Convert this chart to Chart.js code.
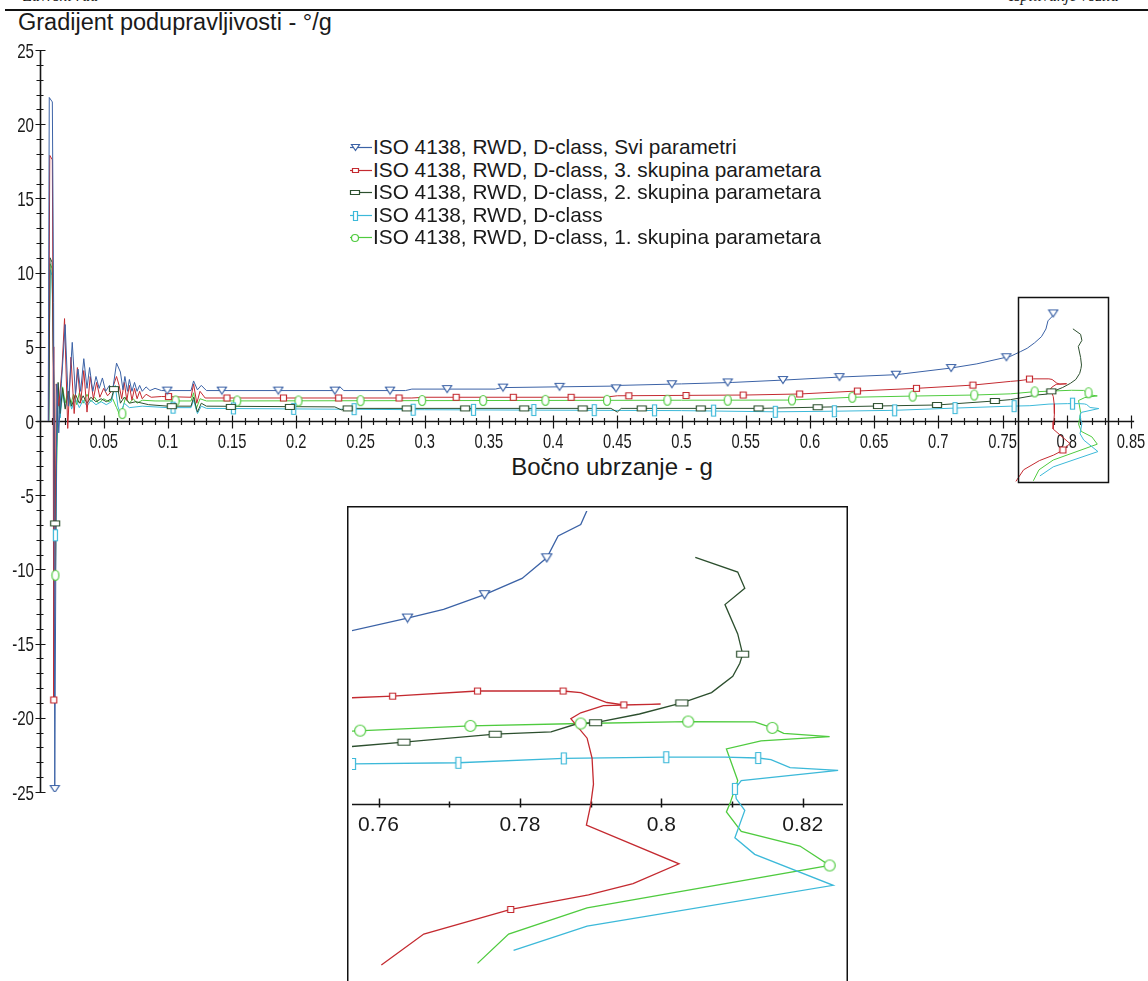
<!DOCTYPE html>
<html>
<head>
<meta charset="utf-8">
<script src="https://cdn.jsdelivr.net/npm/chart.js@4.4.1/dist/chart.umd.min.js"></script>
<style>
  html, body { margin: 0; padding: 0; width: 1148px; height: 981px; overflow: hidden; background: #fff; }
  body { position: relative; font-family: 'Liberation Sans', Arial, sans-serif; color: #1a1a1a; }
  canvas { position: absolute; }
  #mainChart { left: 0; top: 0; }
  #insetChart { left: 347px; top: 506px; background: #fff; }
  .hdr { position: absolute; top: -14px; font: italic 16px 'Liberation Serif', 'Times New Roman', serif; line-height: 20px; white-space: nowrap; }
  .rule { position: absolute; left: 5px; right: 0; top: 9px; height: 0; border-top: 2px solid #111; background: #fff; }
  .title { position: absolute; left: 18px; top: 11px; font-size: 23.5px; line-height: 23.5px; white-space: nowrap; }
  .xtitle { position: absolute; left: 612px; top: 455px; transform: translateX(-50%); font-size: 24px; line-height: 24px; white-space: nowrap; }
  #legend { position: absolute; left: 349px; top: 136px; font-size: 20.8px; line-height: 22.5px; white-space: nowrap; }
  #legend .row { position: relative; height: 22.5px; padding-left: 24px; }
  #legend canvas { left: 0; top: 0; }
</style>
</head>
<body>
<div class="hdr" style="left:23px">Završni rad</div>
<div class="hdr" style="left:1009px">Ispitivanje vozila</div>
<div class="rule"></div>
<div class="title">Gradijent podupravljivosti - °/g</div>
<div class="xtitle">Bočno ubrzanje - g</div>
<div id="legend"></div>
<canvas id="mainChart" width="1148" height="981"></canvas>
<canvas id="insetChart" width="501" height="475"></canvas>
<script>
// -----------------------------------------------------------------------------
// Data. Points are [x = lateral acc. g, y = gradient °/g]
// -----------------------------------------------------------------------------

const sviLine = [
  [0.0068, 0], [0.0076, 21.8], [0.0100, 21.5], [0.0110, 8], [0.0119, -24.8], [0.0127, -10],
  [0.0136, 2.5], [0.0150, -0.8], [0.0170, 2.5], [0.0200, 6.5], [0.0225, 1.0], [0.0255, 5.3],
  [0.0280, 1.8], [0.0300, 3.5], [0.0320, 2.0], [0.0345, 4.2], [0.0370, 2.2], [0.0390, 3.6],
  [0.0415, 2.0], [0.0440, 3.0], [0.0465, 2.2], [0.0490, 2.9], [0.0515, 2.0], [0.0545, 2.4],
  [0.0570, 2.1], [0.0600, 3.9], [0.0630, 3.3], [0.0650, 2.1], [0.0665, 3.0], [0.0685, 2.0],
  [0.0700, 2.8], [0.0720, 2.0], [0.0740, 2.6], [0.0760, 2.0], [0.0780, 2.4], [0.0800, 2.0],
  [0.0830, 2.3], [0.0860, 2.05], [0.0900, 2.2], [0.0950, 2.05], [0.1180, 2.05], [0.1200, 2.7],
  [0.1230, 2.1], [0.1260, 2.4], [0.1300, 2.05], [0.2300, 2.05], [0.2340, 2.3], [0.2370, 2.05],
  [0.2850, 2.05], [0.2900, 2.15], [0.3550, 2.15], [0.3600, 2.25], [0.4450, 2.35], [0.4480, 2.1],
  [0.4520, 2.4], [0.5000, 2.5], [0.5400, 2.6], [0.5800, 2.76], [0.6230, 2.96], [0.6670, 3.12],
  [0.7100, 3.57], [0.7300, 3.85], [0.7530, 4.30], [0.7562, 4.36], [0.7641, 4.68], [0.7692, 4.90],
  [0.7750, 5.27], [0.7803, 5.68], [0.7838, 6.20], [0.7854, 6.75], [0.7886, 7.04], [0.7895, 7.40],
];
const sviMainMarks = [
  [0.0119, -24.8], [0.0995, 2.05], [0.142, 2.05], [0.186, 2.05], [0.230, 2.05], [0.273, 2.05],
  [0.3175, 2.15], [0.361, 2.25], [0.405, 2.3], [0.449, 2.2], [0.4925, 2.48], [0.536, 2.6],
  [0.579, 2.76], [0.623, 2.96], [0.667, 3.12], [0.710, 3.57], [0.753, 4.30], [0.7895, 7.25],
];
const sviInsetMarks = [[0.7641, 4.68], [0.7750, 5.27], [0.7838, 6.20]];

const s3Line = [
  [0.0070, 0], [0.0080, 17.9], [0.0100, 17.6], [0.0106, 5], [0.0111, -18.8], [0.0120, -12],
  [0.0130, 2.5], [0.0150, 1.0], [0.0175, 3.5], [0.0195, 6.9], [0.0220, -0.5], [0.0245, 4.3],
  [0.0270, 0.5], [0.0295, 3.6], [0.0320, 1.2], [0.0345, 3.4], [0.0370, 0.6], [0.0395, 3.0],
  [0.0420, 1.5], [0.0445, 2.6], [0.0470, 1.6], [0.0500, 2.2], [0.0530, 1.7], [0.0560, 2.0],
  [0.0600, 3.0], [0.0620, 2.4], [0.0640, 1.5], [0.0660, 2.6], [0.0680, 1.4], [0.0700, 2.4],
  [0.0720, 1.4], [0.0740, 2.2], [0.0760, 1.5], [0.0780, 2.0], [0.0800, 1.5], [0.0830, 1.8],
  [0.0870, 1.6], [0.0950, 1.65], [0.1180, 1.6], [0.1200, 2.5], [0.1225, 1.2], [0.1250, 2.0],
  [0.1290, 1.55], [0.2900, 1.55], [0.3000, 1.6], [0.4400, 1.6], [0.4500, 1.7], [0.5500, 1.75],
  [0.5920, 1.82], [0.6370, 2.02], [0.6830, 2.20], [0.7270, 2.42], [0.7562, 2.67], [0.7620, 2.71],
  [0.7740, 2.84], [0.7861, 2.84], [0.7886, 2.80], [0.7923, 2.55], [0.7947, 2.49], [0.7999, 2.51],
  [0.7918, 2.47], [0.7886, 2.29], [0.7872, 2.14], [0.7895, 1.65], [0.7902, 1.15], [0.7904, 0.49],
  [0.7900, -0.04], [0.7894, -0.54], [0.8025, -1.52], [0.7960, -2.02], [0.7897, -2.30],
  [0.7787, -2.67], [0.7664, -3.29], [0.7604, -4.07],
];
const s3MainMarks = [
  [0.0111, -18.8], [0.1005, 1.65], [0.146, 1.55], [0.190, 1.55], [0.233, 1.55], [0.280, 1.55],
  [0.3245, 1.6], [0.369, 1.6], [0.414, 1.6], [0.459, 1.7], [0.5035, 1.72], [0.548, 1.75],
  [0.592, 1.82], [0.637, 2.02], [0.683, 2.20], [0.727, 2.42], [0.771, 2.83], [0.7970, -1.95],
];
const s3InsetMarks = [[0.7620, 2.71], [0.7740, 2.84], [0.7861, 2.84], [0.7947, 2.49], [0.7787, -2.67]];

const s2Line = [
  [0.0072, 0], [0.0082, 11.0], [0.0098, 10.7], [0.0110, 3], [0.0122, -6.9], [0.0132, -2],
  [0.0145, 2.6], [0.0160, 0.5], [0.0180, 2.2], [0.0200, 0.8], [0.0225, 2.0], [0.0250, 1.0],
  [0.0280, 1.8], [0.0310, 1.2], [0.0340, 1.7], [0.0370, 1.2], [0.0400, 1.6], [0.0440, 1.3],
  [0.0480, 1.5], [0.0520, 1.3], [0.0560, 1.5], [0.0580, 2.15], [0.0610, 2.2], [0.0630, 1.2],
  [0.0660, 1.6], [0.0700, 1.2], [0.0750, 1.3], [0.0850, 1.1], [0.1000, 1.0], [0.1180, 1.0],
  [0.1200, 1.6], [0.1230, 0.6], [0.1260, 1.2], [0.1300, 1.0], [0.2300, 0.95], [0.2350, 0.75],
  [0.2400, 0.85], [0.4450, 0.85], [0.4500, 0.6], [0.4530, 0.85], [0.5610, 0.85], [0.6060, 0.93],
  [0.6530, 1.01], [0.6990, 1.08], [0.7440, 1.35], [0.7562, 1.44], [0.7636, 1.55], [0.7765, 1.75],
  [0.7844, 1.81], [0.7882, 2.02], [0.7907, 2.04], [0.7969, 2.26], [0.8029, 2.54], [0.8071, 2.80],
  [0.8101, 3.21], [0.8111, 3.54], [0.8115, 3.77], [0.8108, 4.28], [0.8090, 5.02], [0.8118, 5.43],
  [0.8108, 5.84], [0.8048, 6.21],
];
const s2MainMarks = [
  [0.0122, -6.9], [0.058, 2.15], [0.103, 1.0], [0.149, 0.95], [0.195, 0.95], [0.240, 0.85],
  [0.286, 0.85], [0.3315, 0.85], [0.3775, 0.85], [0.423, 0.85], [0.469, 0.85], [0.515, 0.85],
  [0.560, 0.85], [0.606, 0.93], [0.653, 1.01], [0.699, 1.08], [0.744, 1.35], [0.788, 2.0],
];
const s2InsetMarks = [[0.7636, 1.55], [0.7765, 1.75], [0.7907, 2.04], [0.8029, 2.54], [0.8115, 3.77]];

const dLine = [
  [0.0072, 0], [0.0082, 10.2], [0.0098, 9.8], [0.0112, 2], [0.0124, -7.7], [0.0134, -2],
  [0.0145, 2.2], [0.0160, 0.2], [0.0180, 1.9], [0.0200, 0.9], [0.0225, 1.8], [0.0250, 0.8],
  [0.0280, 1.5], [0.0310, 0.9], [0.0340, 1.4], [0.0370, 1.0], [0.0400, 1.4], [0.0440, 1.1],
  [0.0480, 1.3], [0.0520, 1.1], [0.0560, 1.3], [0.0590, 2.4], [0.0610, 1.0], [0.0630, 0.5],
  [0.0660, 1.2], [0.0700, 0.9], [0.0800, 1.0], [0.1000, 0.9], [0.1180, 0.9], [0.1200, 1.4],
  [0.1230, 0.5], [0.1260, 1.0], [0.1300, 0.85], [0.3000, 0.76], [0.5000, 0.7], [0.5730, 0.62],
  [0.6190, 0.66], [0.6660, 0.72], [0.7130, 0.87], [0.7564, 1.00], [0.7713, 1.03], [0.7862, 1.14],
  [0.8007, 1.17], [0.8090, 1.17], [0.8137, 1.15], [0.8155, 1.11], [0.8182, 0.91], [0.8250, 0.84],
  [0.8113, 0.58], [0.8104, 0.37], [0.8106, 0.12], [0.8118, -0.17], [0.8104, -0.86], [0.8132, -1.28],
  [0.8243, -2.06], [0.7895, -3.09], [0.7791, -3.70],
];
const dMainMarks = [
  [0.0124, -7.7], [0.104, 0.9], [0.151, 0.85], [0.198, 0.82], [0.245, 0.8], [0.291, 0.76],
  [0.338, 0.75], [0.385, 0.74], [0.432, 0.73], [0.479, 0.72], [0.525, 0.7], [0.573, 0.62],
  [0.619, 0.66], [0.666, 0.72], [0.713, 0.87], [0.759, 1.0], [0.8045, 1.17],
];
const dInsetMarks = [[0.7564, 1.00], [0.7713, 1.03], [0.7862, 1.14], [0.8007, 1.17], [0.8137, 1.15], [0.8104, 0.37]];

const s1Line = [
  [0.0072, 0], [0.0082, 10.6], [0.0098, 10.3], [0.0112, 2], [0.0124, -10.4], [0.0134, -3],
  [0.0145, 2.0], [0.0160, 0.3], [0.0180, 2.3], [0.0200, 1.2], [0.0220, 2.0], [0.0240, 1.0],
  [0.0265, 1.8], [0.0290, 1.1], [0.0310, 1.9], [0.0340, 1.2], [0.0370, 1.8], [0.0400, 1.3],
  [0.0430, 1.6], [0.0460, 1.2], [0.0500, 1.5], [0.0540, 1.3], [0.0570, 1.5], [0.0600, 0.9],
  [0.0630, 0.3], [0.0650, 0.9], [0.0670, 1.6], [0.0700, 1.2], [0.0730, 1.5], [0.0760, 1.2],
  [0.0800, 1.4], [0.0900, 1.35], [0.1180, 1.35], [0.1200, 1.9], [0.1220, 0.8], [0.1250, 1.5],
  [0.1300, 1.35], [0.5000, 1.4], [0.5840, 1.41], [0.6330, 1.60], [0.6800, 1.68], [0.7280, 1.75],
  [0.7562, 1.83], [0.7730, 1.96], [0.7886, 2.02], [0.8038, 2.07], [0.8132, 2.06], [0.8157, 1.91],
  [0.8173, 1.77], [0.8238, 1.69], [0.8141, 1.58], [0.8092, 1.38], [0.8108, 0.58], [0.8097, 0.00],
  [0.8092, -0.21], [0.8113, -0.70], [0.8196, -1.07], [0.8238, -1.56], [0.7895, -2.63],
  [0.7784, -3.29], [0.7740, -4.03],
];
const s1MainMarks = [
  [0.0124, -10.4], [0.0645, 0.5], [0.106, 1.35], [0.154, 1.35], [0.2017, 1.35], [0.25, 1.37],
  [0.298, 1.38], [0.3455, 1.38], [0.394, 1.39], [0.442, 1.39], [0.489, 1.4], [0.536, 1.4],
  [0.586, 1.42], [0.633, 1.60], [0.680, 1.68], [0.728, 1.75], [0.775, 1.96], [0.817, 1.9],
];
const s1InsetMarks = [[0.7574, 1.84], [0.7730, 1.96], [0.7886, 2.02], [0.8038, 2.07], [0.8157, 1.91], [0.8238, -1.56]];

// Axes
const X_TICKS = [0.05, 0.1, 0.15, 0.2, 0.25, 0.3, 0.35, 0.4, 0.45, 0.5, 0.55, 0.6, 0.65, 0.7, 0.75, 0.8, 0.85];
const X_TICK_LABELS = ['0.05', '0.1', '0.15', '0.2', '0.25', '0.3', '0.35', '0.4', '0.45', '0.5', '0.55', '0.6', '0.65', '0.7', '0.75', '0.8', '0.85'];
const Y_TICKS = [-25, -20, -15, -10, -5, 0, 5, 10, 15, 20, 25];
const Y_TICK_LABELS = ['-25', '-20', '-15', '-10', '-5', '0', '5', '10', '15', '20', '25'];
const INSET_TICKS = [0.76, 0.78, 0.8, 0.82];
const INSET_TICK_LABELS = ['0.76', '0.78', '0.8', '0.82'];
const INSET_MINOR_TICKS = [0.77, 0.79, 0.81];
const ZOOM_BOX_X = [0.7619, 0.8324];
const ZOOM_BOX_Y = [-4.08, 8.36];

// -----------------------------------------------------------------------------
// Series table (legend order) + styles
// -----------------------------------------------------------------------------

const SERIES = [
  { label: 'ISO 4138, RWD, D-class, Svi parametri', line: sviLine, main: sviMainMarks, inset: sviInsetMarks },
  { label: 'ISO 4138, RWD, D-class, 3. skupina parametara', line: s3Line, main: s3MainMarks, inset: s3InsetMarks },
  { label: 'ISO 4138, RWD, D-class, 2. skupina parametara', line: s2Line, main: s2MainMarks, inset: s2InsetMarks },
  { label: 'ISO 4138, RWD, D-class', line: dLine, main: dMainMarks, inset: dInsetMarks },
  { label: 'ISO 4138, RWD, D-class, 1. skupina parametara', line: s1Line, main: s1MainMarks, inset: s1InsetMarks },
];

// shape, colour, marker [w, h] for main / inset / legend
const STYLES = [
  { shape: 'tri', color: '#3b62a6', main: [9, 7], inset: [10, 8], legend: [8, 6] },
  { shape: 'rect', color: '#c42a30', main: [6, 6], inset: [6, 6], legend: [6, 4] },
  { shape: 'rect', color: '#2c4f2e', main: [9, 5], inset: [12, 6], legend: [9, 4] },
  { shape: 'rect', color: '#3cb9d9', main: [4, 11], inset: [5, 11], legend: [4, 9] },
  { shape: 'ellipse', color: '#4fcb3f', main: [7, 10], inset: [11, 11], legend: [7, 7] },
];

const FONT = '"Liberation Sans", Arial, sans-serif';

function makeMarker(shape, color, w, h) {
  const c = document.createElement('canvas');
  c.width = w + 3;
  c.height = h + 3;
  const g = c.getContext('2d');
  g.strokeStyle = color;
  g.fillStyle = '#fff';
  g.lineWidth = 1.2;
  g.beginPath();
  if (shape === 'tri') {
    g.moveTo(1.5, 1.5);
    g.lineTo(w + 1.5, 1.5);
    g.lineTo(w / 2 + 1.5, h + 1.5);
    g.closePath();
  } else if (shape === 'ellipse') {
    g.ellipse(w / 2 + 1.5, h / 2 + 1.5, w / 2, h / 2, 0, 0, Math.PI * 2);
  } else {
    g.rect(1.5, 1.5, w, h);
  }
  g.fill();
  g.stroke();
  return c;
}

const toXY = (pts) => pts.map(([x, y]) => ({ x, y }));

function buildDatasets(which, lineWidth) {
  const marks = [];
  const lines = [];
  SERIES.forEach((s, i) => {
    const st = STYLES[i];
    const [w, h] = st[which];
    marks.push({
      data: toXY(s[which]),
      showLine: false,
      pointStyle: makeMarker(st.shape, st.color, w, h),
      pointRadius: 4,
      borderColor: st.color,
    });
    lines.push({
      data: toXY(s.line),
      borderColor: st.color,
      borderWidth: lineWidth,
      pointRadius: 0,
      fill: false,
      tension: 0,
    });
  });
  return marks.concat(lines); // markers first so they draw on top
}

function drawNarrow(ctx, text, px, py, align, sx) {
  ctx.save();
  ctx.translate(px, py);
  ctx.scale(sx, 1);
  ctx.textAlign = align;
  ctx.fillText(text, 0, 0);
  ctx.restore();
}

const crisp = (v) => Math.round(v) + 0.5;

// -----------------------------------------------------------------------------
// Main chart: axes cross at the origin, ticks drawn across the lines
// -----------------------------------------------------------------------------

const mainAxes = {
  id: 'mainAxes',
  beforeDatasetsDraw(chart) {
    const { ctx, scales: { x, y } } = chart;
    const x0 = crisp(x.getPixelForValue(0));
    const y0 = crisp(y.getPixelForValue(0));
    ctx.save();
    ctx.strokeStyle = '#151515';
    ctx.lineWidth = 1.6;
    ctx.beginPath();
    ctx.moveTo(x0, y.getPixelForValue(25));
    ctx.lineTo(x0, y.getPixelForValue(-25));
    ctx.moveTo(x0 - 4, y0);
    ctx.lineTo(x.getPixelForValue(0.8525), y0);
    ctx.stroke();

    ctx.lineWidth = 1.2;
    ctx.beginPath();
    for (let v = -25; v <= 25; v += 1) {
      const py = crisp(y.getPixelForValue(v));
      const major = v % 5 === 0;
      ctx.moveTo(x0 - (major ? 5 : 4), py);
      ctx.lineTo(x0 + (major ? 5 : 3), py);
    }
    for (let i = 1; i <= 85; i += 1) {
      const px = crisp(x.getPixelForValue(i / 100));
      const major = i % 5 === 0;
      ctx.moveTo(px, y0 - (major ? 6 : 3.5));
      ctx.lineTo(px, y0 + (major ? 7 : 3.5));
    }
    ctx.stroke();

    ctx.fillStyle = '#1a1a1a';
    ctx.font = `21px ${FONT}`;
    ctx.textBaseline = 'alphabetic';
    Y_TICKS.forEach((v, i) => {
      drawNarrow(ctx, Y_TICK_LABELS[i], x0 - 6.5, y.getPixelForValue(v) + 7.5, 'right', 0.72);
    });
    X_TICKS.forEach((v, i) => {
      drawNarrow(ctx, X_TICK_LABELS[i], x.getPixelForValue(v), y0 + 26, 'center', 0.7);
    });
    ctx.restore();
  },
  afterDatasetsDraw(chart) {
    const { ctx, scales: { x, y } } = chart;
    const l = crisp(x.getPixelForValue(ZOOM_BOX_X[0]));
    const r = crisp(x.getPixelForValue(ZOOM_BOX_X[1]));
    const t = crisp(y.getPixelForValue(ZOOM_BOX_Y[1]));
    const b = crisp(y.getPixelForValue(ZOOM_BOX_Y[0]));
    ctx.save();
    ctx.strokeStyle = '#111';
    ctx.lineWidth = 1.5;
    ctx.strokeRect(l, t, r - l, b - t);
    ctx.restore();
  },
};

new Chart(document.getElementById('mainChart'), {
  type: 'line',
  data: { datasets: buildDatasets('main', 1) },
  options: {
    responsive: false,
    animation: false,
    devicePixelRatio: 1,
    layout: { padding: { left: 39.5, right: 14.5, top: 50, bottom: 189 } },
    plugins: { legend: { display: false }, tooltip: { enabled: false } },
    scales: {
      x: { type: 'linear', min: 0, max: 0.852, display: false },
      y: { type: 'linear', min: -25, max: 25, display: false },
    },
  },
  plugins: [mainAxes],
});

// -----------------------------------------------------------------------------
// Inset: zoom of the right-hand end
// -----------------------------------------------------------------------------

const insetAxes = {
  id: 'insetAxes',
  beforeDatasetsDraw(chart) {
    const { ctx, chartArea: a, scales: { x, y } } = chart;
    const y0 = crisp(y.getPixelForValue(0));
    ctx.save();
    ctx.strokeStyle = '#151515';
    ctx.lineWidth = 1.5;
    ctx.beginPath();
    ctx.moveTo(a.left, y0);
    ctx.lineTo(a.right, y0);
    INSET_TICKS.forEach((v) => {
      const px = crisp(x.getPixelForValue(v));
      ctx.moveTo(px, y0 - 6);
      ctx.lineTo(px, y0 + 3);
    });
    INSET_MINOR_TICKS.forEach((v) => {
      const px = crisp(x.getPixelForValue(v));
      ctx.moveTo(px, y0 - 3);
      ctx.lineTo(px, y0 + 3);
    });
    ctx.stroke();
    ctx.fillStyle = '#1a1a1a';
    ctx.font = `21px ${FONT}`;
    ctx.textAlign = 'center';
    ctx.textBaseline = 'alphabetic';
    INSET_TICKS.forEach((v, i) => {
      ctx.fillText(INSET_TICK_LABELS[i], x.getPixelForValue(v), y0 + 26);
    });
    ctx.restore();
  },
  afterDatasetsDraw(chart) {
    const { ctx, width } = chart;
    ctx.save();
    ctx.strokeStyle = '#111';
    ctx.lineWidth = 1.5;
    ctx.beginPath();
    ctx.moveTo(0.75, chart.height);
    ctx.lineTo(0.75, 0.75);
    ctx.lineTo(width - 0.75, 0.75);
    ctx.lineTo(width - 0.75, chart.height);
    ctx.stroke();
    ctx.restore();
  },
};

new Chart(document.getElementById('insetChart'), {
  type: 'line',
  data: { datasets: buildDatasets('inset', 1.3) },
  options: {
    responsive: false,
    animation: false,
    devicePixelRatio: 1,
    layout: { padding: 0 },
    plugins: { legend: { display: false }, tooltip: { enabled: false } },
    scales: {
      x: { type: 'linear', min: 0.75625, max: 0.82569, display: false },
      y: { type: 'linear', min: -4.348, max: 7.38, display: false },
    },
  },
  plugins: [insetAxes],
});

// -----------------------------------------------------------------------------
// Legend (line + marker icon, then label)
// -----------------------------------------------------------------------------

const legendEl = document.getElementById('legend');
SERIES.forEach((s, i) => {
  const st = STYLES[i];
  const row = document.createElement('div');
  row.className = 'row';
  const icon = document.createElement('canvas');
  icon.width = 24;
  icon.height = 22;
  const g = icon.getContext('2d');
  g.strokeStyle = st.color;
  g.lineWidth = 1.2;
  g.beginPath();
  g.moveTo(1, 11.5);
  g.lineTo(23, 11.5);
  g.stroke();
  const m = makeMarker(st.shape, st.color, st.legend[0], st.legend[1]);
  g.drawImage(m, Math.round(6 - m.width / 2), Math.round(11.5 - m.height / 2));
  row.appendChild(icon);
  row.appendChild(document.createTextNode(s.label));
  legendEl.appendChild(row);
});
</script>
</body>
</html>
